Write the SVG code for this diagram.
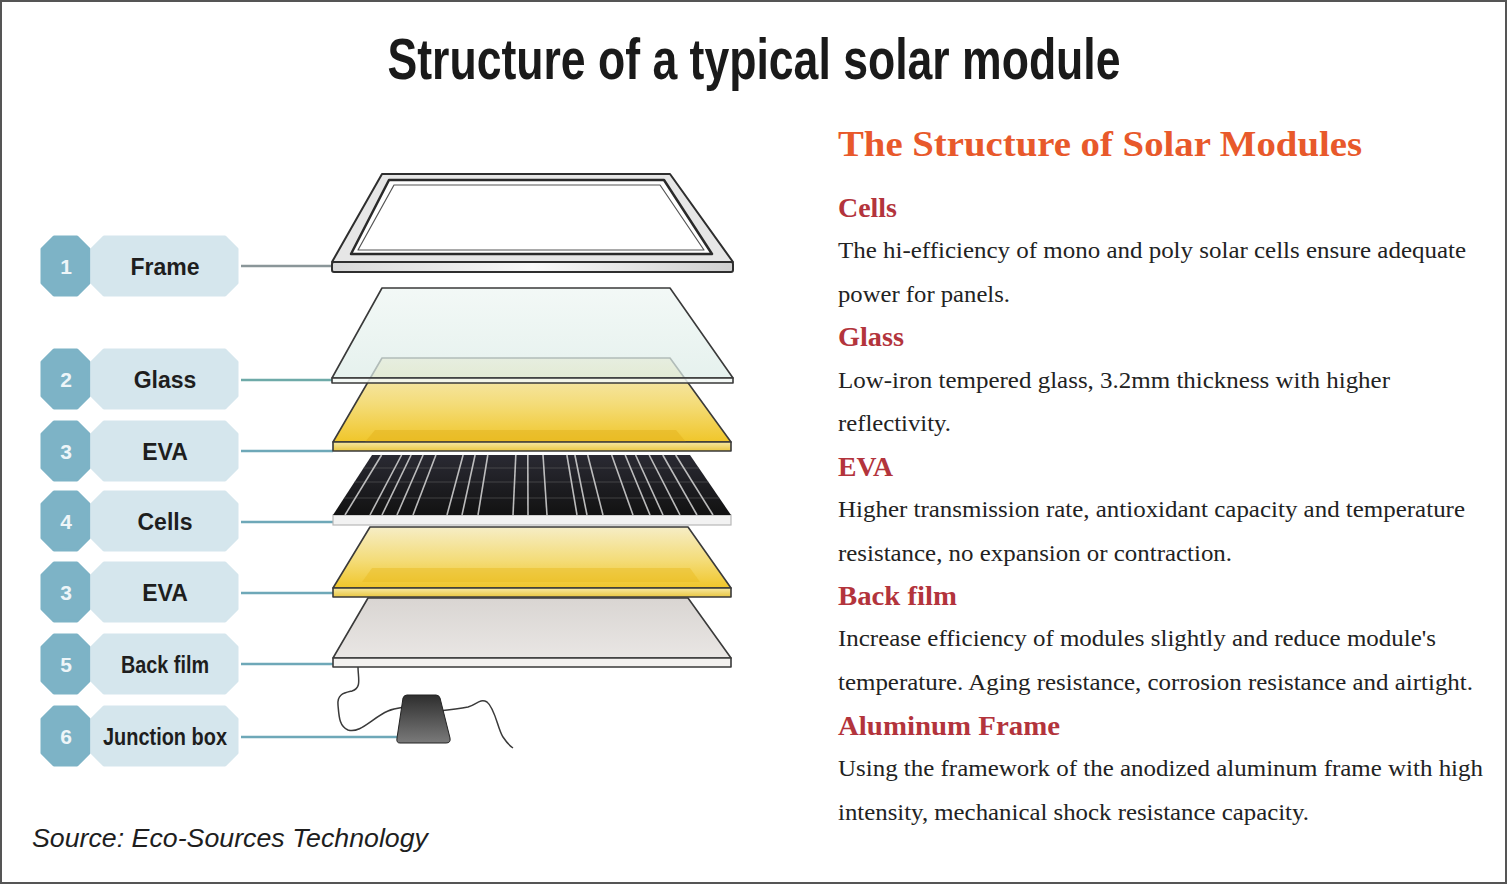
<svg xmlns="http://www.w3.org/2000/svg" width="1508" height="885" viewBox="0 0 1508 885">
<style>
.num{fill:#7db3c6;stroke:#7db3c6;stroke-width:3;stroke-linejoin:round}
.lab{fill:#d5e6ed;stroke:#d5e6ed;stroke-width:3;stroke-linejoin:round}
.numt{font-family:"Liberation Sans",Arial,sans-serif;font-weight:bold;font-size:21px;fill:#eef5f8;text-anchor:middle}
.labt{font-family:"Liberation Sans",Arial,sans-serif;font-weight:bold;font-size:23px;fill:#1e1e1e;text-anchor:middle}
.conn{stroke:#6ea8b8;stroke-width:2.5;fill:none}
.edge{stroke:#3a3a3a;stroke-width:1.6;stroke-linejoin:round}
.h2{font-family:"Liberation Serif","Times New Roman",serif;font-weight:bold;font-size:28px;fill:#b3343c}
.body{font-family:"Liberation Serif","Times New Roman",serif;font-size:22.5px;fill:#222}
.cl{stroke:#d8d8d8;stroke-width:1.6;opacity:0.85}
.ch{stroke:#6a6a6a;stroke-width:1;opacity:0.5}
</style>
<defs>
<polygon id="numShape" points="54,0 77,0 89,12 89,46 77,58 54,58 42,46 42,12"/>
<polygon id="labShape" points="104,0 225,0 237,12 237,46 225,58 104,58 92,46 92,12"/>
<linearGradient id="evaG" x1="0" y1="0" x2="0" y2="1">
<stop offset="0" stop-color="#f6edc6"/>
<stop offset="0.55" stop-color="#f4dc78"/>
<stop offset="1" stop-color="#f0c62a"/>
</linearGradient>
<linearGradient id="bandY" x1="0" y1="0" x2="0" y2="1">
<stop offset="0" stop-color="#f7e9a4"/>
<stop offset="1" stop-color="#e9c640"/>
</linearGradient>
<linearGradient id="cellG" x1="0" y1="0" x2="0" y2="1">
<stop offset="0" stop-color="#2a2a33"/>
<stop offset="1" stop-color="#121212"/>
</linearGradient>
<linearGradient id="backG" x1="0" y1="0" x2="0" y2="1">
<stop offset="0" stop-color="#d9d5d2"/>
<stop offset="1" stop-color="#e9e6e4"/>
</linearGradient>
<linearGradient id="glassG" x1="0" y1="0" x2="0" y2="1">
<stop offset="0" stop-color="#eef6f3"/>
<stop offset="1" stop-color="#dcece7"/>
</linearGradient>
<linearGradient id="frameBand" x1="0" y1="0" x2="1" y2="0">
<stop offset="0" stop-color="#d8d8d8"/>
<stop offset="0.5" stop-color="#f8f8f8"/>
<stop offset="1" stop-color="#cfcfcf"/>
</linearGradient>
<linearGradient id="jbG" x1="0" y1="0" x2="0" y2="1">
<stop offset="0" stop-color="#2e2e2e"/>
<stop offset="1" stop-color="#7a7a7a"/>
</linearGradient>
</defs>

<rect x="1" y="1" width="1505" height="882" fill="#ffffff" stroke="#555555" stroke-width="2"/>

<text x="754" y="79" font-family="'Liberation Sans Narrow','Liberation Sans',Arial,sans-serif" font-weight="bold" font-size="57" fill="#1a1a1a" text-anchor="middle" textLength="733" lengthAdjust="spacingAndGlyphs">Structure of a typical solar module</text>

<g id="connectors">
<line class="conn" x1="241" y1="266" x2="333" y2="266" style="stroke:#8a9699"/>
<line class="conn" x1="241" y1="380" x2="333" y2="380" style="stroke:#6eaaa8"/>
<line class="conn" x1="241" y1="451" x2="333" y2="451"/>
<line class="conn" x1="241" y1="522" x2="333" y2="522"/>
<line class="conn" x1="241" y1="593" x2="333" y2="593"/>
<line class="conn" x1="241" y1="664" x2="333" y2="664"/>
<line class="conn" x1="241" y1="737" x2="397" y2="737"/>
</g>

<g id="layer-backfilm">
<polygon class="edge" points="368,598 688,598 731,658 333,658" fill="url(#backG)"/>
<rect class="edge" x="333" y="658" width="398" height="9" fill="#f3f1ef"/>
</g>

<g id="layer-eva2">
<polygon class="edge" points="370,527 688,527 731,588 333,588" fill="url(#evaG)"/>
<polygon points="372,568 690,568 700,582 362,582" fill="#e8bb1e" opacity="0.45"/>
<rect class="edge" x="333" y="588" width="398" height="9" fill="url(#bandY)"/>
</g>

<g id="layer-cells">
<rect x="333" y="515" width="398" height="10" fill="#f2f2f2" stroke="#b8b8b8" stroke-width="1.2"/>
<polygon points="372,455 690,455 731,515 333,515" fill="url(#cellG)"/>
<line class="ch" x1="363.5" y1="468" x2="698.9" y2="468"/>
<line class="ch" x1="354.5" y1="482" x2="708.5" y2="482"/>
<line class="ch" x1="344.1" y1="498" x2="719.4" y2="498"/>
<line class="cl" x1="381.6" y1="455" x2="345" y2="515"/>
<line class="cl" x1="401.6" y1="455" x2="370" y2="515"/>
<line class="cl" x1="411.1" y1="455" x2="382" y2="515"/>
<line class="cl" x1="423.1" y1="455" x2="397" y2="515"/>
<line class="cl" x1="435.9" y1="455" x2="413" y2="515"/>
<line class="cl" x1="463.1" y1="455" x2="447" y2="515"/>
<line class="cl" x1="475.1" y1="455" x2="462" y2="515"/>
<line class="cl" x1="487.8" y1="455" x2="478" y2="515"/>
<line class="cl" x1="515.8" y1="455" x2="513" y2="515"/>
<line class="cl" x1="527.8" y1="455" x2="528" y2="515"/>
<line class="cl" x1="543" y1="455" x2="547" y2="515"/>
<line class="cl" x1="566.9" y1="455" x2="577" y2="515"/>
<line class="cl" x1="574.9" y1="455" x2="587" y2="515"/>
<line class="cl" x1="587.7" y1="455" x2="603" y2="515"/>
<line class="cl" x1="611.7" y1="455" x2="633" y2="515"/>
<line class="cl" x1="625.2" y1="455" x2="650" y2="515"/>
<line class="cl" x1="635.6" y1="455" x2="663" y2="515"/>
<line class="cl" x1="649.2" y1="455" x2="680" y2="515"/>
<line class="cl" x1="662.8" y1="455" x2="697" y2="515"/>
<line class="cl" x1="675.7" y1="455" x2="713" y2="515"/>
</g>

<g id="layer-eva1">
<polygon class="edge" points="382,358 670,358 731,442 333,442" fill="url(#evaG)"/>
<polygon points="375,430 676,430 686,442 365,442" fill="#e3b11c" opacity="0.5"/>
<rect class="edge" x="333" y="442" width="398" height="9" fill="url(#bandY)"/>
</g>

<g id="layer-glass">
<polygon class="edge" points="382,288 670,288 733,378 332,378" fill="url(#glassG)" fill-opacity="0.72"/>
<rect class="edge" x="332" y="378" width="401" height="5" fill="#f2f8f5" fill-opacity="0.85"/>
</g>

<g id="layer-frame">
<polygon points="382,174 670,174 733,262 332,262" fill="#e6e6e6" stroke="#2e2e2e" stroke-width="2" stroke-linejoin="round"/>
<polygon points="389,180 664,180 712,254 351,254" fill="#ffffff" stroke="#2a2a2a" stroke-width="2.5" stroke-linejoin="round"/>
<polygon points="394,185 660,185 704,250 358,250" fill="#ffffff" stroke="#555555" stroke-width="1.2" stroke-linejoin="round"/>
<rect x="332" y="262" width="401" height="10" rx="2" fill="url(#frameBand)" stroke="#2e2e2e" stroke-width="2"/>
</g>

<g id="layer-junctionbox">
<path d="M358,667 C358,678 362,688 352,691 C344,693 337,694 338,705 C339,716 339,726 348,730 C360,734 372,718 388,711 C395,708 400,708 406,707" fill="none" stroke="#3a3a3a" stroke-width="1.5"/>
<path d="M438,711 C448,710 458,709 468,707 C476,705 480,698 487,702 C495,708 498,730 503,737 C507,743 510,746 513,748" fill="none" stroke="#3a3a3a" stroke-width="1.5"/>
<path d="M407,695 L436,695 Q439,695 440,698 L450,738 Q451,743 446,743 L400,743 Q396,743 397,738 L403,698 Q404,695 407,695 Z" fill="url(#jbG)" stroke="#222" stroke-width="1"/>
</g>

<g id="node-frame">
<use href="#numShape" class="num" transform="translate(0,237)"/>
<use href="#labShape" class="lab" transform="translate(0,237)"/>
<text class="numt" x="66" y="274">1</text>
<text class="labt" x="165" y="275">Frame</text>
</g>
<g id="node-glass">
<use href="#numShape" class="num" transform="translate(0,350)"/>
<use href="#labShape" class="lab" transform="translate(0,350)"/>
<text class="numt" x="66" y="387">2</text>
<text class="labt" x="165" y="388">Glass</text>
</g>
<g id="node-eva1">
<use href="#numShape" class="num" transform="translate(0,422)"/>
<use href="#labShape" class="lab" transform="translate(0,422)"/>
<text class="numt" x="66" y="459">3</text>
<text class="labt" x="165" y="460">EVA</text>
</g>
<g id="node-cells">
<use href="#numShape" class="num" transform="translate(0,492)"/>
<use href="#labShape" class="lab" transform="translate(0,492)"/>
<text class="numt" x="66" y="529">4</text>
<text class="labt" x="165" y="530">Cells</text>
</g>
<g id="node-eva2">
<use href="#numShape" class="num" transform="translate(0,563)"/>
<use href="#labShape" class="lab" transform="translate(0,563)"/>
<text class="numt" x="66" y="600">3</text>
<text class="labt" x="165" y="601">EVA</text>
</g>
<g id="node-backfilm">
<use href="#numShape" class="num" transform="translate(0,635)"/>
<use href="#labShape" class="lab" transform="translate(0,635)"/>
<text class="numt" x="66" y="672">5</text>
<text class="labt" x="165" y="673" textLength="88" lengthAdjust="spacingAndGlyphs">Back film</text>
</g>
<g id="node-junctionbox">
<use href="#numShape" class="num" transform="translate(0,707)"/>
<use href="#labShape" class="lab" transform="translate(0,707)"/>
<text class="numt" x="66" y="744">6</text>
<text class="labt" x="165" y="745" textLength="124" lengthAdjust="spacingAndGlyphs">Junction box</text>
</g>

<g id="description">
<text x="838" y="156" font-family="'Liberation Serif','Times New Roman',serif" font-weight="bold" font-size="36" fill="#e8592b" textLength="524" lengthAdjust="spacingAndGlyphs">The Structure of Solar Modules</text>
<text class="h2" x="838" y="217" textLength="59" lengthAdjust="spacingAndGlyphs">Cells</text>
<text class="body" x="838" y="258" textLength="628" lengthAdjust="spacingAndGlyphs">The hi-efficiency of mono and poly solar cells ensure adequate</text>
<text class="body" x="838" y="302" textLength="172" lengthAdjust="spacingAndGlyphs">power for panels.</text>
<text class="h2" x="838" y="346" textLength="66" lengthAdjust="spacingAndGlyphs">Glass</text>
<text class="body" x="838" y="388" textLength="552" lengthAdjust="spacingAndGlyphs">Low-iron tempered glass, 3.2mm thickness with higher</text>
<text class="body" x="838" y="431" textLength="113" lengthAdjust="spacingAndGlyphs">reflectivity.</text>
<text class="h2" x="838" y="476" textLength="55" lengthAdjust="spacingAndGlyphs">EVA</text>
<text class="body" x="838" y="517" textLength="627" lengthAdjust="spacingAndGlyphs">Higher transmission rate, antioxidant capacity and temperature</text>
<text class="body" x="838" y="561" textLength="394" lengthAdjust="spacingAndGlyphs">resistance, no expansion or contraction.</text>
<text class="h2" x="838" y="605" textLength="119" lengthAdjust="spacingAndGlyphs">Back film</text>
<text class="body" x="838" y="646" textLength="598" lengthAdjust="spacingAndGlyphs">Increase efficiency of modules slightly and reduce module's</text>
<text class="body" x="838" y="690" textLength="635" lengthAdjust="spacingAndGlyphs">temperature. Aging resistance, corrosion resistance and airtight.</text>
<text class="h2" x="838" y="735" textLength="222" lengthAdjust="spacingAndGlyphs">Aluminum Frame</text>
<text class="body" x="838" y="776" textLength="645" lengthAdjust="spacingAndGlyphs">Using the framework of the anodized aluminum frame with high</text>
<text class="body" x="838" y="820" textLength="471" lengthAdjust="spacingAndGlyphs">intensity, mechanical shock resistance capacity.</text>
</g>

<text x="32" y="847" font-family="'Liberation Sans',Arial,sans-serif" font-style="italic" font-size="25.5" fill="#1e1e1e" textLength="396" lengthAdjust="spacingAndGlyphs">Source: Eco-Sources Technology</text>
</svg>
